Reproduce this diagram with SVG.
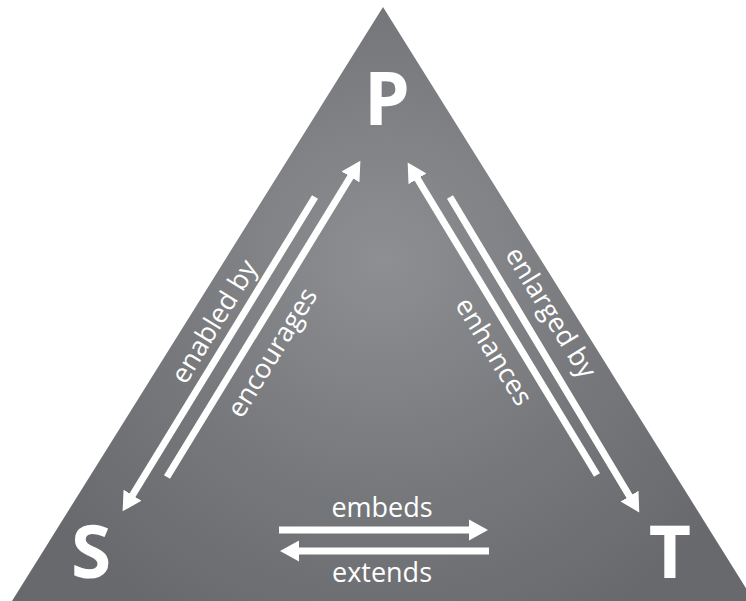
<svg xmlns="http://www.w3.org/2000/svg" width="746" height="601" viewBox="0 0 746 601">
  <defs>
    <radialGradient id="bg" gradientUnits="userSpaceOnUse" cx="383" cy="260" r="420">
      <stop offset="0" stop-color="#8e8f92"/>
      <stop offset="0.55" stop-color="#77787b"/>
      <stop offset="1" stop-color="#68696c"/>
    </radialGradient>
    <marker id="ah" markerUnits="userSpaceOnUse" markerWidth="21" markerHeight="23" viewBox="0 -11.5 21 23" refX="1" refY="0" orient="auto">
      <path d="M0,-10.5 L19,0 L0,10.5 z" fill="#ffffff"/>
    </marker>
    <style>
      .ln { stroke: #ffffff; stroke-width: 7; fill: none; }
      .arr { marker-end: url(#ah); }
      .big { font-family: "Open Sans", "Liberation Sans", sans-serif; font-weight: bold; font-size: 73px; fill: #ffffff; text-anchor: middle; }
      .lbl { font-family: "Open Sans", "Liberation Sans", sans-serif; font-size: 27px; fill: #ffffff; text-anchor: middle; }
    </style>
  </defs>
  <g id="triangle">
    <polygon points="383,7 12,601 754,601" fill="url(#bg)"/>
  </g>
  <g id="node-P"><text class="big" x="387" y="125">P</text></g>
  <g id="node-S"><text class="big" x="91" y="578">S</text></g>
  <g id="node-T"><text class="big" x="670" y="578">T</text></g>
  <g id="connectors">
    <path class="ln arr" d="M315,197 L132,496"/>
    <path class="ln arr" d="M167,477 L351,176"/>
    <path class="ln arr" d="M597,475 L417,178"/>
    <path class="ln arr" d="M450,197 L630,497"/>
    <path class="ln arr" d="M279,530 L470,530"/>
    <path class="ln arr" d="M489,551 L298,551"/>
  </g>
  <g id="labels">
    <text class="lbl" transform="translate(215,322) rotate(-58.5)" dy="0.3em">enabled by</text>
    <text class="lbl" transform="translate(273,353) rotate(-58.5)" dy="0.3em">encourages</text>
    <text class="lbl" transform="translate(550,313) rotate(58.5)" dy="0.3em">enlarged by</text>
    <text class="lbl" transform="translate(493,352) rotate(58.5)" dy="0.3em">enhances</text>
    <text class="lbl" x="382" y="517">embeds</text>
    <text class="lbl" x="382" y="582">extends</text>
  </g>
</svg>
